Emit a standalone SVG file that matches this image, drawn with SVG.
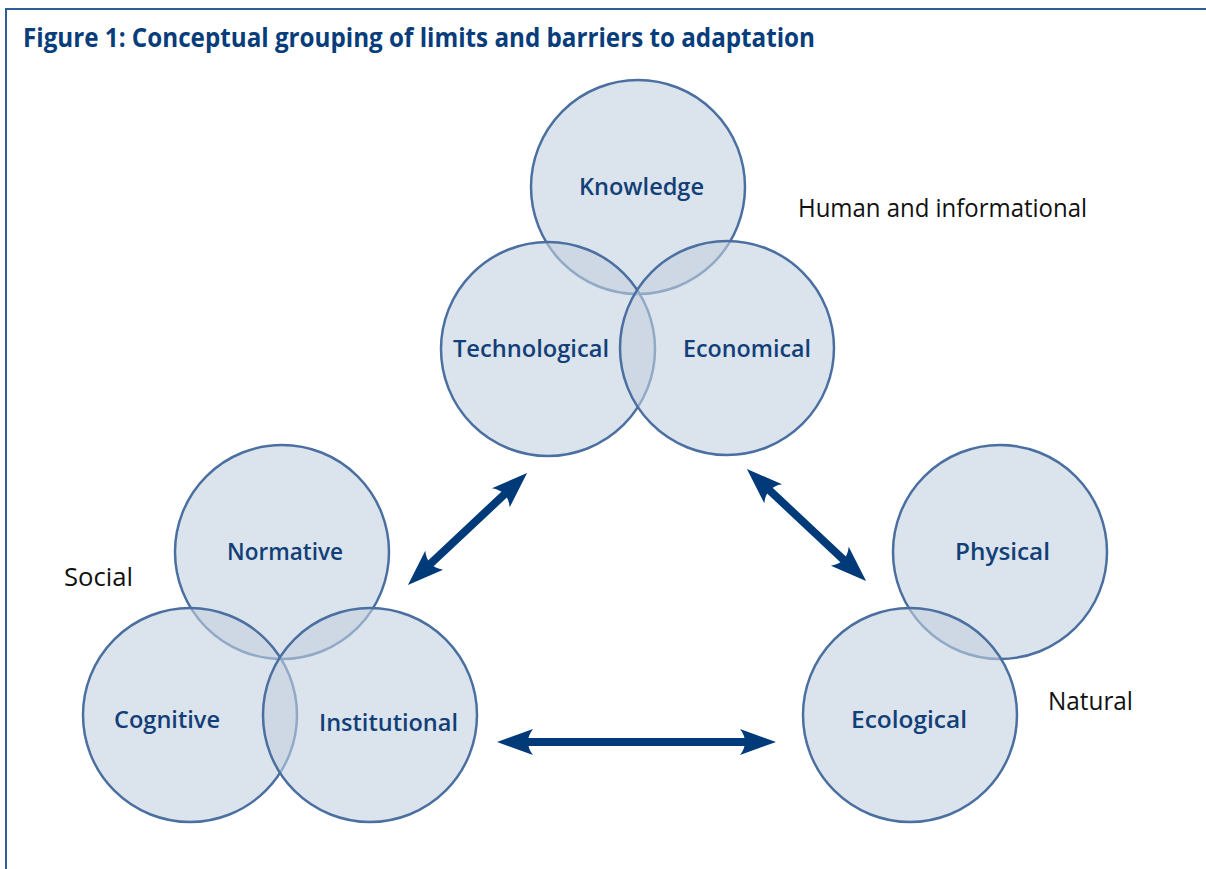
<svg xmlns="http://www.w3.org/2000/svg" width="1206" height="869" viewBox="0 0 1206 869">
<style>
.c{fill:#c3d0df;fill-opacity:0.6;stroke:#4a6fa0;stroke-width:2.5}
.lbl{font-family:"Open Sans","Liberation Sans",sans-serif;font-weight:600;font-size:23px;fill:#123f78}
.grp{font-family:"Open Sans","Liberation Sans",sans-serif;font-weight:500;font-size:25px;fill:#111}
.title{font-family:"Open Sans","Liberation Sans",sans-serif;font-weight:700;font-size:27px;fill:#073d7a}
.arr{stroke:#003a78;stroke-width:8;fill:none;marker-start:url(#ah);marker-end:url(#ah)}
</style>
<defs>
<marker id="ah" markerUnits="userSpaceOnUse" viewBox="0 -15 40 30" markerWidth="40" markerHeight="30" refX="6" refY="0" orient="auto-start-reverse">
<path d="M36,0 L0,-13 Q10,0 0,13 Z" fill="#003a78"/>
</marker>
</defs>
<rect width="1206" height="869" fill="#fff"/>
<g id="frame">
<path d="M5,9 H1206 M6,9 V869" stroke="#2f5d96" stroke-width="2" fill="none"/>
</g>
<text class="title" x="23" y="47" textLength="792" lengthAdjust="spacingAndGlyphs">Figure 1: Conceptual grouping of limits and barriers to adaptation</text>

<g id="knowledge"><circle class="c" cx="638" cy="187" r="107"/><text class="lbl" x="579" y="195" textLength="125" lengthAdjust="spacingAndGlyphs">Knowledge</text></g>
<g id="technological"><circle class="c" cx="548" cy="349" r="107"/></g>
<g id="economical"><circle class="c" cx="727" cy="348" r="107"/></g>
<text class="lbl" x="453" y="357" textLength="156" lengthAdjust="spacingAndGlyphs">Technological</text>
<text class="lbl" x="683" y="357" textLength="128" lengthAdjust="spacingAndGlyphs">Economical</text>

<g id="normative"><circle class="c" cx="282" cy="552" r="107"/></g>
<g id="cognitive"><circle class="c" cx="190" cy="715" r="107"/></g>
<g id="institutional"><circle class="c" cx="370" cy="715" r="107"/></g>
<text class="lbl" x="227" y="560" textLength="116" lengthAdjust="spacingAndGlyphs">Normative</text>
<text class="lbl" x="114" y="728" textLength="106" lengthAdjust="spacingAndGlyphs">Cognitive</text>
<text class="lbl" x="319" y="731" textLength="139" lengthAdjust="spacingAndGlyphs">Institutional</text>

<g id="physical"><circle class="c" cx="1000" cy="552" r="107"/></g>
<g id="ecological"><circle class="c" cx="910" cy="715" r="107"/></g>
<text class="lbl" x="955" y="560" textLength="95" lengthAdjust="spacingAndGlyphs">Physical</text>
<text class="lbl" x="851" y="728" textLength="116" lengthAdjust="spacingAndGlyphs">Ecological</text>

<g id="group-labels">
<text class="grp" x="798" y="217" textLength="289" lengthAdjust="spacingAndGlyphs">Human and informational</text>
<text class="grp" x="64" y="586" textLength="69" lengthAdjust="spacingAndGlyphs">Social</text>
<text class="grp" x="1048" y="710" textLength="85" lengthAdjust="spacingAndGlyphs">Natural</text>
</g>

<g id="connectors">
<line class="arr" x1="429.8" y1="564.4" x2="505.2" y2="493.6"/>
<line class="arr" x1="768.8" y1="489.6" x2="844.2" y2="560.4"/>
<line class="arr" x1="527" y1="742" x2="746" y2="742"/>
</g>
</svg>
